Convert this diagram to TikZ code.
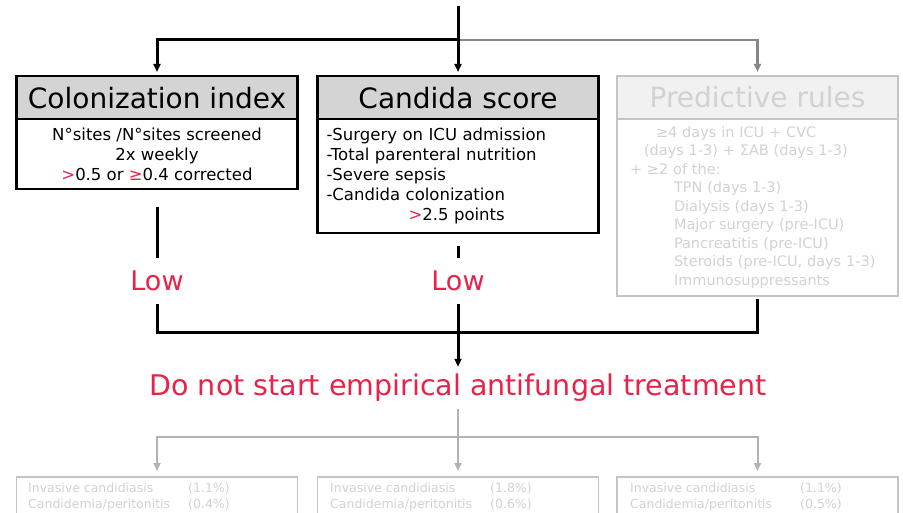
\documentclass[tikz,border=0pt]{standalone}
\usepackage{fontspec}
\setmainfont{DejaVu Sans}
\usetikzlibrary{arrows.meta}

\definecolor{alertred}{RGB}{232,34,72}
\definecolor{headgray}{RGB}{212,212,212}
\definecolor{fadeline}{RGB}{196,196,196}
\definecolor{fadetext}{RGB}{210,210,210}
\definecolor{fadefill}{RGB}{241,241,241}
\definecolor{midgray}{RGB}{135,135,135}
\definecolor{lowgray}{RGB}{178,178,178}

\newcommand{\hl}[1]{\textcolor{alertred}{#1}}

\begin{document}
\begin{tikzpicture}[x=1pt,y=-1pt,
  headbox/.style={draw=black, line width=2.5pt, fill=headgray,
    minimum width=281pt, minimum height=43pt, inner sep=0pt, anchor=north,
    font=\fontsize{28}{30}\selectfont},
  bodybox/.style={draw=black, line width=2.5pt, fill=white,
    minimum width=281pt, inner sep=0pt, anchor=north,
    font=\fontsize{16.5}{20}\selectfont},
  fadehead/.style={headbox, draw=fadeline, line width=1.6pt, fill=fadefill, text=fadetext},
  fadebody/.style={bodybox, draw=fadeline, line width=1.6pt, text=fadetext,
    font=\fontsize{14.5}{18.5}\selectfont},
  outbox/.style={draw=fadeline, line width=1.6pt, fill=white, minimum width=281pt,
    minimum height=70pt, anchor=north, inner sep=0pt},
  outtext/.style={text=fadetext, font=\fontsize{12.5}{16}\selectfont, align=left,
    anchor=north west, inner sep=0pt},
  verdict/.style={text=alertred, inner sep=0pt, font=\fontsize{27}{30}\selectfont},
  link/.style={draw=black, line width=3pt},
  graylink/.style={draw=midgray, line width=2.5pt},
  faintlink/.style={draw=lowgray, line width=2pt},
  tip/.style={-{Triangle[length=8pt,width=7pt]}},
]
\fill[white] (0,0) rectangle (903,513);
\useasboundingbox (0,0) rectangle (903,513);
\clip (0,0) rectangle (903,513);

% ---- three screening tools ----
\node[headbox] (colhead) at (157,75) {Colonization index};
\node[bodybox, minimum height=70pt, align=center] (colbody) at (157,118)
  {N°sites /N°sites screened\\2x weekly\\\hl{>}0.5 or \hl{≥}0.4 corrected};

\node[headbox] (candhead) at (458,75) {Candida score};
\node[bodybox, minimum height=114pt, align=left, text width=263pt] (candbody) at (458,118)
  {-Surgery on ICU admission\\-Total parenteral nutrition\\-Severe sepsis\\-Candida colonization\\\hspace*{82pt}\hl{>}2.5 points};

\node[fadehead] (predhead) at (757.5,75) {Predictive rules};
\node[fadebody, minimum height=177pt, align=left, text width=255pt] (predbody) at (757.5,118)
  {\hspace*{26pt}≥4 days in ICU + CVC\\
   \hspace*{14pt}(days 1-3) + ΣAB (days 1-3)\\
   + ≥2 of the:\\
   \hspace*{44pt}TPN (days 1-3)\\
   \hspace*{44pt}Dialysis (days 1-3)\\
   \hspace*{44pt}Major surgery (pre-ICU)\\
   \hspace*{44pt}Pancreatitis (pre-ICU)\\
   \hspace*{44pt}Steroids (pre-ICU, days 1-3)\\
   \hspace*{44pt}Immunosuppressants};

% ---- entry connector ----
\coordinate (src) at (458,6);
\coordinate (split) at (458,40);
\draw[graylink, tip] (split) -| ([yshift=3pt]predhead.north);
\draw[link, tip] (split) -| ([yshift=3pt]colhead.north);
\draw[link, tip] (src) -- ([yshift=3pt]candhead.north);

% ---- low results ----
\node[verdict, minimum height=46pt] (lowA) at (157,281) {Low};
\node[verdict, minimum height=46pt] (lowB) at (458,281) {Low};
\coordinate (merge) at (458,333);
\draw[link] ([yshift=-17pt]colbody.south) -- (lowA.north);
\draw[link] ([yshift=-12pt]candbody.south) -- (lowB.north);
\draw[link] (lowA.south) |- (merge) -| ([yshift=-2pt]predbody.south);
\draw[link] (lowB.south) -- (merge);

\node[verdict, minimum height=42pt, font=\fontsize{28.5}{30}\selectfont] (advice) at (458,388)
  {Do not start empirical antifungal treatment};
\draw[link, tip] (merge) -- (advice.north);

% ---- outcome boxes ----
\node[outbox] (outA) at (157,476) {};
\node[outbox] (outB) at (458,476) {};
\node[outbox] (outC) at (757.5,476) {};
\node[outtext] (txtA) at (28,483)
  {\makebox[160pt][l]{Invasive candidiasis}(1.1\%)\\\makebox[160pt][l]{Candidemia/peritonitis}(0.4\%)};
\node[outtext] (txtB) at (330,483)
  {\makebox[160pt][l]{Invasive candidiasis}(1.8\%)\\\makebox[160pt][l]{Candidemia/peritonitis}(0.6\%)};
\node[outtext] (txtC) at (630,483)
  {\makebox[170pt][l]{Invasive candidiasis}(1.1\%)\\\makebox[170pt][l]{Candidemia/peritonitis}(0.5\%)};

\coordinate (fan) at (458,437);
\draw[faintlink] (advice.south) -- (fan);
\draw[faintlink, tip] (fan) -| ([yshift=5pt]outA.north);
\draw[faintlink, tip] (fan) -| ([yshift=5pt]outC.north);
\draw[faintlink, tip] (fan) -- ([yshift=5pt]outB.north);
\end{tikzpicture}
\end{document}
